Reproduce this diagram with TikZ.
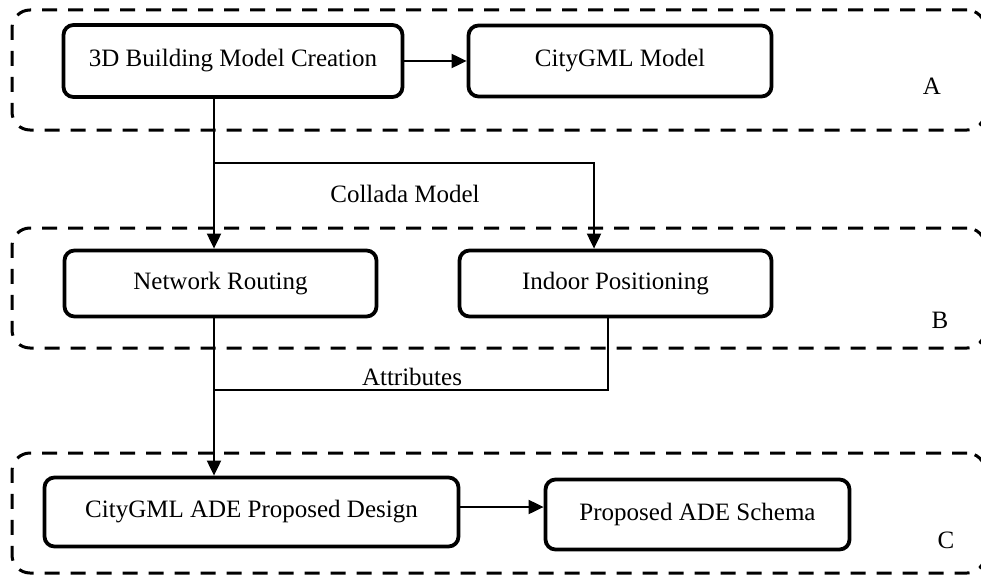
\documentclass[tikz,border=0pt]{standalone}
\usepackage{fontspec}
\setmainfont{Liberation Serif}
\usetikzlibrary{arrows.meta}
\begin{document}
\begin{tikzpicture}[x=1pt,y=-1pt,
  stage/.style={draw, line width=3.8pt, rounded corners=10pt, inner sep=0pt,
    font=\fontsize{25}{30}\selectfont},
  group/.style={draw, line width=3pt, dash pattern=on 15pt off 11pt,
    rounded corners=18pt, inner sep=0pt},
  link/.style={line width=2pt},
  flow/.style={link, -{Triangle[length=15pt,width=14pt]}},
  tag/.style={font=\fontsize{25}{30}\selectfont, anchor=base, inner sep=0pt}]
\useasboundingbox (0,0) rectangle (981,575);

% dashed stage groups (right side runs off the page edge)
\node[group, minimum width=973pt, minimum height=120pt] (grpA) at (498.5,70) {};
\node[group, minimum width=973pt, minimum height=120pt] (grpB) at (498.5,288) {};
\node[group, minimum width=973pt, minimum height=120pt] (grpC) at (498.5,513) {};

% process boxes
\node[stage, minimum width=339pt, minimum height=72pt] (b1) at (233,61) {3D Building Model Creation};
\node[stage, minimum width=303pt, minimum height=71pt] (b2) at (620,61) {CityGML Model};
\node[stage, minimum width=312pt, minimum height=66pt] (nr) at (220.5,283.5) {Network Routing};
\node[stage, minimum width=312pt, minimum height=66pt] (ip) at (615.5,283.5) {Indoor Positioning};
\node[stage, minimum width=414pt, minimum height=69pt] (des) at (251.5,512) {CityGML ADE Proposed Design};
\node[stage, minimum width=304pt, minimum height=70pt] (sch) at (697.5,514.5) {Proposed ADE Schema};

% group letters
\node[tag] (ltA) at (932,95) {A};
\node[tag] (ltB) at (940,328) {B};
\node[tag] (ltC) at (946,548) {C};

% connector bends
\coordinate (colx) at (214,163);
\coordinate (ipx) at (594,163);
\coordinate (atx) at (608,390);
\coordinate (atj) at (214,390);
\coordinate (dsy) at (0,507);

% connectors
\draw[flow] (b1.east) -- (b2.west |- b1.east);
\draw[flow] (b1.south -| colx) -- (nr.north -| colx);
\draw[flow] (colx) -- (ipx) -- (ip.north -| ipx);
\draw[link] (ip.south -| atx) -- (atx) -- (atj);
\draw[flow] (nr.south -| atj) -- (des.north -| atj);
\draw[flow] (des.east |- dsy) -- (sch.west |- dsy);

% connector labels
\node[tag] (lcol) at (405,202) {Collada Model};
\node[tag] (latt) at (412,385) {Attributes};
\end{tikzpicture}
\end{document}
